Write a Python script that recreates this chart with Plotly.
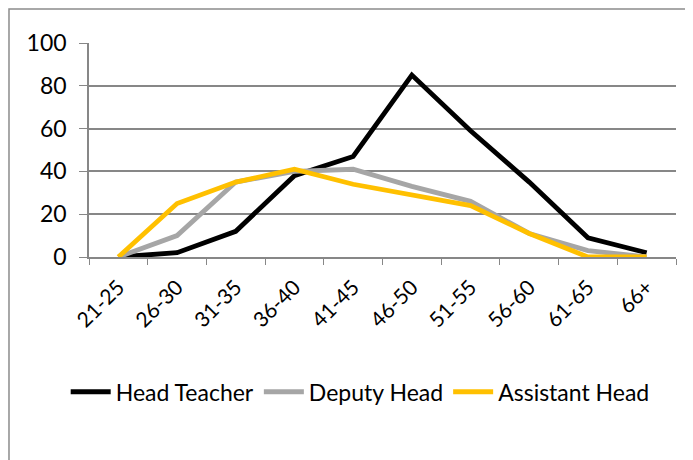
import plotly.graph_objects as go

categories = ["21-25", "26-30", "31-35", "36-40", "41-45", "46-50", "51-55", "56-60", "61-65", "66+"]
head_teacher = [0, 2, 12, 38, 47, 85, 59, 35, 9, 2]
deputy_head = [0, 10, 35, 40, 41, 33, 26, 11, 3, 0]
assistant_head = [0, 25, 35, 41, 34, 29, 24, 11, 0, 0]

series_names = ["Head Teacher", "Deputy Head", "Assistant Head"]
series_values = [head_teacher, deputy_head, assistant_head]
colors = ["#000000", "#A6A6A6", "#FFC000"]

FONT = "Lato, Carlito, Calibri, sans-serif"
GRID = "#878787"

fig = go.Figure()
for name, vals, c in zip(series_names, series_values, colors):
    fig.add_trace(go.Scatter(x=categories, y=vals, name=name, mode="lines",
                             line=dict(color=c, width=4.8)))

fig.update_layout(
    width=693, height=460,
    margin=dict(l=81, r=25, t=35, b=211),
    paper_bgcolor="white", plot_bgcolor="white",
    font=dict(family=FONT, size=21, color="#000000"),
    showlegend=True,
    legend=dict(orientation="h", x=0.462, xanchor="center", y=-0.63, yanchor="middle",
                font=dict(family=FONT, size=23), itemwidth=40, tracegroupgap=0),
    xaxis=dict(type="category", range=[-0.5, len(categories) - 0.5],
               tickson="boundaries", ticks="outside", ticklen=6, automargin=False,
               tickcolor=GRID, showline=True, linecolor=GRID, linewidth=1.5,
               showgrid=False, tickangle=-45, tickfont=dict(size=21, family=FONT),
               ticklabelstandoff=8),
    yaxis=dict(range=[0, 100], dtick=20, ticks="outside", ticklen=8, tickcolor=GRID,
               showline=True, linecolor=GRID, linewidth=1.5, showgrid=True,
               gridcolor=GRID, gridwidth=1.5, zeroline=False, automargin=False,
               tickfont=dict(size=23, family=FONT), ticklabelstandoff=8),
    shapes=[dict(type="rect", xref="paper", yref="paper",
                 x0=-0.1363, x1=1.2, y0=-1.2, y1=1.1589,
                 line=dict(color="#8C8C8C", width=1.5), fillcolor="rgba(0,0,0,0)",
                 layer="below")],
)

fig.write_html("out.html")
